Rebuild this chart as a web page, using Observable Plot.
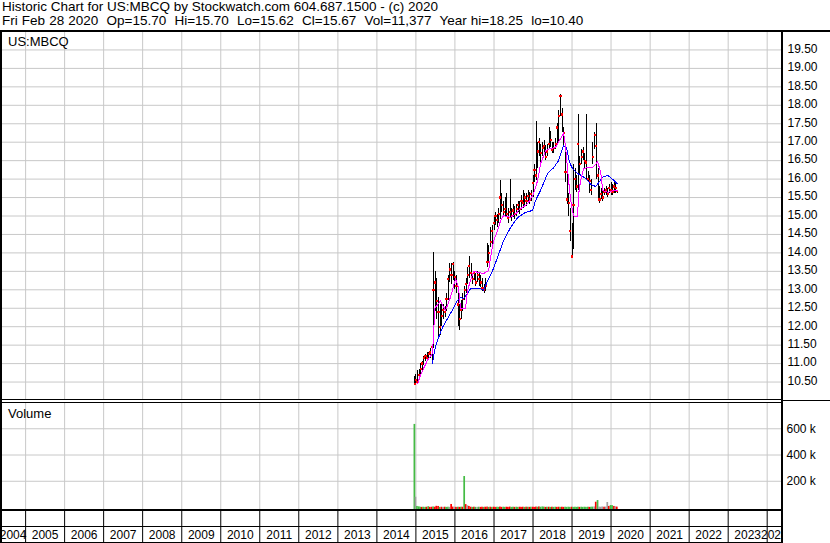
<!DOCTYPE html>
<html><head><meta charset="utf-8">
<script src="https://cdn.jsdelivr.net/npm/d3@7"></script>
<script src="https://cdn.jsdelivr.net/npm/@observablehq/plot@0.6"></script>
<style>
body{margin:0;background:#fff;}
#wrap{position:relative;width:830px;height:543px;overflow:hidden;background:#fff;font-family:Arial,"Liberation Sans",sans-serif;color:#000;}
#wrap svg{position:absolute;left:0;display:block;}
.ln{position:absolute;background:#000;}
.hdr{position:absolute;left:2px;font-size:13.5px;line-height:14px;white-space:pre;}
.hdr2{word-spacing:0.35px;}
.lbl{position:absolute;left:8px;font-size:13px;line-height:15px;white-space:pre;color:#000;}
</style></head><body><div id="wrap"></div>
<script>
// ---------- data ----------
const headerLine1 = "Historic Chart for US:MBCQ by Stockwatch.com 604.687.1500 - (c) 2020";
const headerLine2 = "Fri Feb 28 2020  Op=15.70  Hi=15.70  Lo=15.62  Cl=15.67  Vol=11,377  Year hi=18.25  lo=10.40";
const symbolLabel = "US:MBCQ";
const volumeLabel = "Volume";

const years = [2004,2005,2006,2007,2008,2009,2010,2011,2012,2013,2014,2015,2016,2017,2018,2019,2020,2021,2022,2023,2024];
const priceTicks = [10.5,11,11.5,12,12.5,13,13.5,14,14.5,15,15.5,16,16.5,17,17.5,18,18.5,19,19.5];
const volumeTicks = [200000,400000,600000];

const barDates = ["2014-12-22",
"2015-01-01","2015-01-15","2015-02-01","2015-02-15","2015-03-01","2015-03-15","2015-04-01","2015-04-15","2015-05-01","2015-05-15","2015-06-01","2015-06-15",
"2015-07-01","2015-07-15","2015-08-01","2015-08-15","2015-09-01","2015-09-15","2015-10-01","2015-10-15","2015-11-01","2015-11-15","2015-12-01","2015-12-15",
"2016-01-01","2016-01-15","2016-02-01","2016-02-15","2016-03-01","2016-03-15","2016-04-01","2016-04-15","2016-05-01","2016-05-15","2016-06-01","2016-06-15",
"2016-07-01","2016-07-15","2016-08-01","2016-08-15","2016-09-01","2016-09-15","2016-10-01","2016-10-15","2016-11-01","2016-11-15","2016-12-01","2016-12-15",
"2017-01-01","2017-01-15","2017-02-01","2017-02-15","2017-03-01","2017-03-15","2017-04-01","2017-04-15","2017-05-01","2017-05-15","2017-06-01","2017-06-15",
"2017-07-01","2017-07-15","2017-08-01","2017-08-15","2017-09-01","2017-09-15","2017-10-01","2017-10-15","2017-11-01","2017-11-15","2017-12-01","2017-12-15",
"2018-01-01","2018-01-15","2018-02-01","2018-02-15","2018-03-01","2018-03-15","2018-04-01","2018-04-15","2018-05-01","2018-05-15","2018-06-01","2018-06-15",
"2018-07-01","2018-07-15","2018-08-01","2018-08-15","2018-09-01","2018-09-15","2018-10-01","2018-10-15","2018-11-01","2018-11-15","2018-12-01","2018-12-15",
"2019-01-01","2019-01-15","2019-02-01","2019-02-15","2019-03-01","2019-03-15","2019-04-01","2019-04-15","2019-05-01","2019-05-15","2019-06-01","2019-06-15",
"2019-07-01","2019-07-15","2019-08-01","2019-08-15","2019-09-01","2019-09-15","2019-10-01","2019-10-15","2019-11-01","2019-11-15","2019-12-01","2019-12-15",
"2020-01-01","2020-01-15","2020-02-01","2020-02-15","2020-02-28"];

const barClose = [10.45,
10.55,10.50,10.70,10.85,11.00,11.15,11.20,11.15,11.25,11.30,11.45,13.00,
13.20,12.70,12.40,12.00,12.30,12.45,12.40,12.75,13.30,13.55,13.40,13.70,
13.35,13.10,12.60,12.20,12.45,12.75,13.00,13.15,13.40,13.65,13.45,13.30,
13.45,13.20,13.40,13.30,13.20,13.05,13.00,13.10,13.75,14.00,14.30,14.60,
14.80,15.00,14.90,15.05,15.50,15.30,15.10,15.20,15.05,14.95,15.10,15.00,
15.15,15.05,15.20,15.30,15.20,15.40,15.35,15.50,15.40,15.55,15.45,15.60,
15.90,16.25,16.10,16.75,17.00,16.70,16.85,16.90,16.60,16.75,16.95,17.05,
16.80,16.85,16.95,17.40,17.70,18.25,17.75,17.25,16.20,15.45,15.35,14.60,
13.90,15.30,16.00,15.80,16.95,16.40,16.60,16.75,16.50,16.45,16.00,15.95,
15.70,16.60,17.20,16.90,16.10,15.45,15.60,15.50,15.65,15.70,15.60,15.75,
15.70,15.65,15.80,15.75,15.67];

const barHigh = [10.65,
10.70,10.80,10.85,11.00,11.05,11.20,11.25,11.30,11.30,11.40,11.50,14.00,
13.50,13.30,12.80,12.60,12.60,12.60,12.55,12.90,13.40,13.70,13.70,13.75,
13.50,13.40,12.90,12.60,12.70,12.90,13.10,13.30,13.60,13.90,13.70,13.45,
13.50,13.45,13.50,13.45,13.40,13.30,13.15,13.30,14.25,14.20,14.70,14.75,
15.00,15.10,15.05,15.20,15.95,15.60,15.40,15.50,15.60,15.20,16.00,15.20,
15.30,15.25,15.30,15.40,15.40,15.55,15.70,15.60,15.60,15.70,15.65,15.70,
16.10,16.40,17.55,17.00,17.10,16.95,17.00,17.05,16.90,16.95,17.40,17.30,
17.00,17.00,17.10,17.50,17.85,18.28,17.90,17.40,16.90,16.30,15.60,15.20,
14.80,16.40,16.30,16.10,17.75,16.60,16.80,16.85,16.70,17.75,16.20,16.10,
16.00,17.00,17.25,17.50,16.30,15.80,15.75,15.70,15.75,15.80,15.75,15.85,
15.90,15.85,15.90,15.90,15.70];

const barLow = [10.40,
10.40,10.45,10.55,10.70,10.80,10.95,11.05,11.05,11.10,11.15,11.05,11.40,
12.40,12.20,11.70,11.75,12.00,12.20,12.25,12.40,12.70,13.20,13.15,13.25,
13.00,12.90,12.00,11.90,12.20,12.40,12.70,12.90,13.15,13.30,13.30,13.15,
13.25,13.10,13.20,13.10,13.05,12.95,12.90,12.95,13.60,13.70,14.15,14.20,
14.60,14.75,14.70,14.80,14.90,15.10,14.95,15.00,14.95,14.80,14.95,14.85,
14.95,14.90,15.00,15.10,15.05,15.15,15.20,15.25,15.25,15.35,15.30,15.40,
15.50,15.90,15.95,16.30,16.60,16.45,16.60,16.70,16.50,16.60,16.80,16.85,
16.70,16.70,16.80,16.95,17.00,17.70,17.25,16.90,15.90,15.30,15.00,14.30,
13.85,14.10,15.70,15.65,15.70,16.10,16.40,16.50,16.30,15.95,15.90,15.60,
15.55,16.40,16.80,16.00,15.40,15.35,15.45,15.40,15.55,15.55,15.50,15.60,
15.55,15.55,15.60,15.60,15.62];

const volume = [633000,
78000,8000,5000,2000,1000,2000,1000,2000,6000,1000,2000,4000,
2000,9000,8000,1000,2000,1000,2000,1000,2000,1000,23000,3000,
2000,1000,2000,1000,2000,2000,236000,22000,13000,8000,2000,1000,
2000,1000,1000,2000,1000,2000,1000,2000,3000,1000,2000,1000,
2000,1000,2000,1000,3000,1000,2000,1000,2000,1000,3000,1000,
2000,1000,2000,1000,2000,1000,2000,1000,2000,2000,1000,2000,
2000,1000,3000,2000,4000,2000,4000,3000,1000,2000,2000,1000,
2000,1000,2000,1000,2000,1000,2000,1000,2000,1000,2000,1000,
2000,1000,2000,1000,2000,1000,2000,1000,2000,1000,2000,1000,
2000,3000,4000,40000,53000,3000,2000,4000,2000,3000,38000,8000,
15000,14000,8000,5000,3000];

const volumeDir = ["u",
"n","u","u","u","d","u","u","d","u","d","d","u",
"d","d","d","u","d","n","d","u","u","n","d","d",
"n","d","u","d","u","d","u","d","n","d","d","u",
"d","u","n","u","d","d","u","d","d","u","d","u",
"d","d","u","u","d","d","u","u","d","d","d","u",
"u","d","u","u","d","d","d","u","d","u","d","u",
"d","d","d","u","d","u","u","u","d","u","d","u",
"d","u","u","d","d","u","d","d","u","u","u","u",
"d","u","u","u","u","d","u","u","u","u","u","d",
"u","u","n","d","u","n","n","n","d","n","n","d",
"u","u","d","n","d"];

const maShortDates = ["2015-01-17","2015-02-14","2015-04-20","2015-06-05","2015-06-15","2015-06-27","2015-08-19","2015-10-05","2015-11-21",
"2016-01-07","2016-02-04","2016-02-22","2016-04-10","2016-04-28","2016-05-26","2016-06-23","2016-09-25","2016-11-11","2016-11-30","2016-12-28",
"2017-02-03","2017-03-03","2017-03-31","2017-06-05","2017-07-22","2017-09-07","2017-11-11",
"2018-01-06","2018-02-13","2018-03-13","2018-04-29","2018-06-14","2018-07-31","2018-09-16","2018-10-14","2018-11-02","2018-11-30","2018-12-19",
"2019-01-16","2019-02-22","2019-03-04","2019-03-22","2019-04-19","2019-05-27","2019-07-13","2019-08-29","2019-09-26","2019-10-15","2019-12-01",
"2020-01-26","2020-02-28"];
const maShortValues = [10.45,10.70,11.09,11.27,11.80,12.50,12.70,12.44,12.80,
13.30,13.06,12.50,12.50,12.98,13.25,13.50,13.44,13.52,13.88,14.33,
14.60,14.87,15.01,14.96,15.06,15.20,15.33,
15.60,15.96,16.42,16.77,16.83,16.86,17.10,17.25,16.86,15.96,15.42,
15.00,15.00,15.60,15.96,16.28,16.31,16.31,16.47,16.18,15.69,15.64,
15.69,15.69];

const maLongDates = ["2015-06-05","2015-06-24","2015-07-22","2015-09-07","2015-11-21",
"2016-01-25","2016-02-22","2016-03-22","2016-04-28","2016-05-26","2016-08-28","2016-09-25","2016-11-02","2016-12-19",
"2017-02-03","2017-03-31","2017-06-05","2017-08-10","2017-10-24","2017-12-28",
"2018-01-25","2018-03-13","2018-05-17","2018-07-13","2018-08-28","2018-10-14","2018-11-11","2018-12-09",
"2019-01-06","2019-02-22","2019-04-10","2019-05-27","2019-06-25","2019-08-10","2019-09-07","2019-10-15","2019-12-01",
"2020-01-06","2020-02-28"];
const maLongValues = [11.00,11.35,11.63,11.98,12.36,
12.71,12.80,12.76,12.90,13.03,13.03,12.98,13.25,13.52,
13.88,14.33,14.69,14.96,15.10,15.15,
15.42,15.70,16.15,16.31,16.50,16.91,16.85,16.45,
16.28,16.15,16.08,15.96,15.86,15.80,15.90,16.05,16.10,
16.02,15.88];

// ---------- layout / styling ----------
const FONT = "Arial, 'Liberation Sans', sans-serif";
const GRID = "#c8c8c8";
const W = 830, MR = 49;
const xDomain = [new Date("2004-05-11"), new Date("2024-05-14")];
const volColor = {u: "#44bb44", d: "#ff0000", n: "#a0a0a0"};

const bars = barDates.map((d, i) => ({
  date: new Date(d), close: barClose[i], high: barHigh[i], low: barLow[i],
  vol: volume[i], dir: volumeDir[i]
}));
const maShort = maShortDates.map((d, i) => ({date: new Date(d), v: maShortValues[i]}));
const maLong = maLongDates.map((d, i) => ({date: new Date(d), v: maLongValues[i]}));
const yearStarts = years.map(y => new Date(Date.UTC(y, 0, 1))).filter(d => d > xDomain[0] && d < xDomain[1]);
const yearLabels = years.map(y => {
  const a = Math.max(Date.UTC(y, 0, 1), +xDomain[0]);
  const b = Math.min(Date.UTC(y + 1, 0, 1), +xDomain[1]);
  return {mid: new Date((a + b) / 2), label: String(y)};
});

const baseStyle = {background: "transparent", fontFamily: FONT, fontSize: "12px", color: "#000", overflow: "visible"};
const wrap = document.getElementById("wrap");

// price panel
const price = Plot.plot({
  width: W, height: 369, marginLeft: 0, marginRight: MR, marginTop: 0, marginBottom: 0,
  style: baseStyle,
  x: {type: "utc", domain: xDomain, axis: null},
  y: {domain: [10, 20], axis: null},
  marks: [
    Plot.ruleX(yearStarts, {stroke: GRID, strokeWidth: 1}),
    Plot.ruleY(priceTicks, {stroke: GRID, strokeWidth: 1}),
    Plot.text(priceTicks, {y: d => d, text: d => d.toFixed(2), frameAnchor: "right", textAnchor: "start", dx: 6, dy: -1, fontSize: 12, fill: "#000"}),
    Plot.ruleX(bars, {x: "date", y1: "low", y2: "high", stroke: "#000", strokeWidth: 1, shapeRendering: "crispEdges"}),
    Plot.dot(bars, {x: "date", y: "close", symbol: "square", r: 1.25, fill: "#ff0000", shapeRendering: "crispEdges"}),
    Plot.line(maLong, {x: "date", y: "v", stroke: "#0000ff", strokeWidth: 1, shapeRendering: "crispEdges"}),
    Plot.line(maShort, {x: "date", y: "v", stroke: "#ff00ff", strokeWidth: 1, shapeRendering: "crispEdges"})
  ]
});
price.style.top = "31px";
wrap.appendChild(price);

// volume panel
const vol = Plot.plot({
  width: W, height: 107, marginLeft: 0, marginRight: MR, marginTop: 0, marginBottom: 2,
  style: baseStyle,
  x: {type: "utc", domain: xDomain, axis: null},
  y: {domain: [0, 800000], axis: null},
  color: {type: "identity"},
  marks: [
    Plot.ruleX(yearStarts, {stroke: GRID, strokeWidth: 1, insetBottom: -2}),
    Plot.ruleY(volumeTicks, {stroke: GRID, strokeWidth: 1}),
    Plot.text(volumeTicks, {y: d => d, text: d => (d / 1000) + " k", frameAnchor: "right", textAnchor: "start", dx: 5, fontSize: 12, fill: "#000"}),
    Plot.rectY(bars, {x1: "date", x2: d => d3.utcDay.offset(d.date, 1), y: "vol", fill: d => volColor[d.dir], insetLeft: -0.8, insetRight: -0.8, insetBottom: -2})
  ]
});
vol.style.top = "402px";
wrap.appendChild(vol);

// year axis
const axis = Plot.plot({
  width: W, height: 34, marginLeft: 0, marginRight: MR, marginTop: 0, marginBottom: 0,
  style: baseStyle,
  x: {type: "utc", domain: xDomain, axis: null},
  marks: [
    Plot.ruleX(yearStarts, {stroke: "#000", strokeWidth: 1}),
    Plot.text(yearLabels, {x: "mid", text: "label", frameAnchor: "middle", dy: 9, fontSize: 12, fill: "#000", clip: true})
  ]
});
axis.style.top = "509px";
wrap.appendChild(axis);

// frame lines
function line(l, t, w, h) {
  const d = document.createElement("div");
  d.className = "ln";
  Object.assign(d.style, {left: l + "px", top: t + "px", width: w + "px", height: h + "px"});
  wrap.appendChild(d);
}
line(0, 30, 830, 2);
line(0, 30, 2, 513);
line(781, 30, 2, 513);
line(0, 399, 781, 1);
line(0, 402, 781, 1);
line(783, 400, 47, 1);
line(0, 509, 783, 2);
line(0, 526, 781, 1);
line(0, 542, 783, 1);

function txt(cls, s, top) {
  const d = document.createElement("div");
  d.className = cls;
  d.textContent = s;
  d.style.top = top + "px";
  wrap.appendChild(d);
}
txt("hdr", headerLine1, 0);
txt("hdr hdr2", headerLine2, 14);
txt("lbl", symbolLabel, 34);
txt("lbl", volumeLabel, 406);
</script></body></html>
